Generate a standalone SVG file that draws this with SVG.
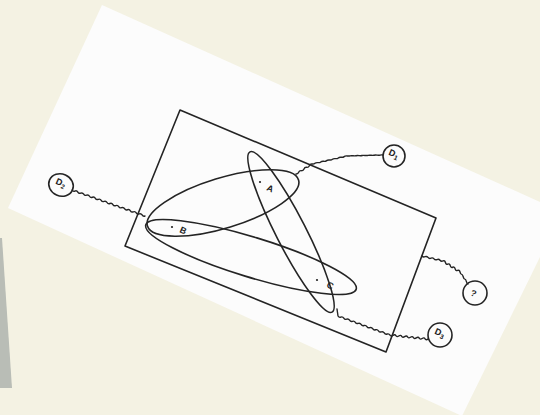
<svg xmlns="http://www.w3.org/2000/svg" width="540" height="415" viewBox="0 0 540 415">
<style>
.ln{fill:none;stroke:#242424;stroke-width:1.6;stroke-linejoin:round;stroke-linecap:round}
.wv{fill:none;stroke:#242424;stroke-width:1.4;stroke-linejoin:round;stroke-linecap:round}
.lbl{font-family:"Liberation Sans",Arial,sans-serif;font-size:9px;font-weight:bold;fill:#222}
.sub{font-size:6.5px}
.dot{fill:#222}
</style>
<rect width="540" height="415" fill="#f4f2e3"/>
<polygon points="0,238 2,238 12,388 0,388" fill="#b9bdb6"/>
<polygon points="102,5 540,202 540,257 462,416 8,208" fill="#fcfcfc"/>

<g id="frame"><polygon class="ln" points="180,110 436,218 386,352 125,246"/></g>

<g id="set-AB"><ellipse class="ln" cx="223" cy="203" rx="79" ry="25" transform="rotate(-17 223 203)"/></g>
<g id="set-AC"><ellipse class="ln" cx="291" cy="232" rx="90" ry="15" transform="rotate(62.9 291 232)"/></g>
<g id="set-BC"><ellipse class="ln" cx="251" cy="257" rx="110" ry="20" transform="rotate(17 251 257)"/></g>

<g id="nodeA"><circle class="dot" cx="260" cy="182" r="1.1"/><text class="lbl" x="266" y="190" transform="rotate(24 266 190)">A</text></g>
<g id="nodeB"><circle class="dot" cx="172" cy="227" r="1.1"/><text class="lbl" x="179" y="232" transform="rotate(24 179 232)">B</text></g>
<g id="nodeC"><circle class="dot" cx="317" cy="280" r="1.1"/><text class="lbl" x="326" y="287" transform="rotate(24 326 287)">C</text></g>

<g id="connectors">
<path class="wv" d="M72,190 q1.02,1.74 2.92,1.04 t2.92,1.04 t2.92,1.04 t2.92,1.04 t2.92,1.04 t2.92,1.04 t2.92,1.04 t2.92,1.04 t2.92,1.04 t2.92,1.04 t2.92,1.04 t2.92,1.04 t2.92,1.04 t2.92,1.04 t2.92,1.04 t2.92,1.04 t2.92,1.04 t2.92,1.04 t2.92,1.04 t2.92,1.04 t2.92,1.04 t2.92,1.04 t2.92,1.04 t2.92,1.04 t2.92,1.04"/>
<path class="wv" d="M296,174 q1.97,0.19 2.67,-1.67 t2.67,-1.67 t2.67,-1.67 t2.67,-1.67 t2.67,-1.67 t2.67,-1.67 t2.92,-0.67 t2.92,-0.67 t2.92,-0.67 t2.92,-0.67 t2.92,-0.67 t2.92,-0.67 t2.92,-0.67 t2.92,-0.67 t2.92,-0.67 t2.92,-0.67 t2.92,-0.67 t2.92,-0.67 t3,-0.08 t3,-0.08 t3,-0.08 t3,-0.08 t3,-0.08 t3,-0.08 t3,-0.08 t3,-0.08 t3,-0.08 t3,-0.08 t3,-0.08 t3,-0.08"/>
<path class="wv" d="M422,256 q1.22,1.53 3,0.71 t3,0.71 t3,0.71 t3,0.71 t3,0.71 t3,0.71 t3,0.71 t2.43,1.57 t2.43,1.57 t2.43,1.57 t2.43,1.57 t2.43,1.57 t2.43,1.57 t2.43,1.57 t1.6,2.4 t1.6,2.4 t1.6,2.4 t1.6,2.4 t1.6,2.4"/>
<path class="wv" d="M337,309 L338,316 q1.03,1.66 2.89,1.06 t2.89,1.06 t2.89,1.06 t2.89,1.06 t2.89,1.06 t2.89,1.06 t2.89,1.06 t2.89,1.06 t2.89,1.06 t2.89,1.06 t2.89,1.06 t2.89,1.06 t2.89,1.06 t2.89,1.06 t2.89,1.06 t2.89,1.06 t2.89,1.06 t2.89,1.06 t2.92,0.31 t2.92,0.31 t2.92,0.31 t2.92,0.31 t2.92,0.31 t2.92,0.31 t2.92,0.31 t2.92,0.31 t2.92,0.31 t2.92,0.31 t2.92,0.31 t2.92,0.31 t2.92,0.31"/>
</g>

<g id="D1"><circle class="ln" cx="394" cy="156" r="11"/><text class="lbl" x="388" y="157" transform="rotate(24 394 156)">D<tspan class="sub" dy="2">1</tspan></text></g>
<g id="D2"><ellipse class="ln" cx="61" cy="185" rx="12.5" ry="11" transform="rotate(24 61 185)"/><text class="lbl" x="55" y="186" transform="rotate(24 61 185)">D<tspan class="sub" dy="2">2</tspan></text></g>
<g id="Q"><circle class="ln" cx="475" cy="293" r="12"/><text class="lbl" x="471" y="297" transform="rotate(24 475 293)">?</text></g>
<g id="D3"><circle class="ln" cx="440" cy="335" r="12"/><text class="lbl" x="434" y="336" transform="rotate(24 440 335)">D<tspan class="sub" dy="2">3</tspan></text></g>
</svg>
